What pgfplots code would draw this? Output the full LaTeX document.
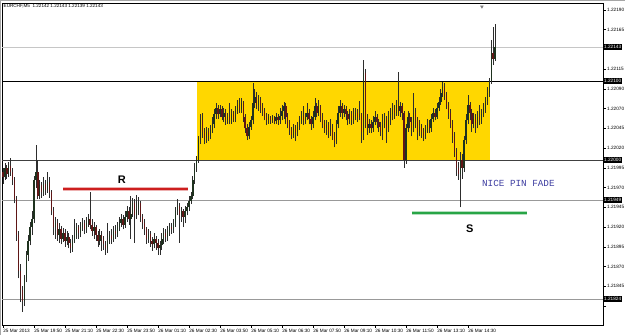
\documentclass[border=0pt]{standalone}
\usepackage{pgfplots}
\pgfplotsset{compat=1.18}
\usepackage{pgfplotstable}
\usepackage{fontspec}
\setmainfont{Liberation Sans}
\newfontfamily\monofont{Liberation Mono}
\definecolor{upc}{RGB}{30,50,30}
\definecolor{dnc}{RGB}{95,22,22}
\definecolor{wickc}{RGB}{45,45,45}
\definecolor{boxgold}{RGB}{255,215,0}
\definecolor{rline}{RGB}{205,30,30}
\definecolor{gline}{RGB}{40,165,70}
\definecolor{pinblue}{RGB}{60,60,160}
\pgfplotstableread{
i o h l c
0 1.21985 1.21990 1.21970 1.21978
1 1.21978 1.21996 1.21975 1.21990
2 1.21990 1.21994 1.21976 1.21982
3 1.21982 1.21998 1.21978 1.21992
4 1.21992 1.22002 1.21980 1.21985
5 1.21985 1.21990 1.21968 1.21975
6 1.21975 1.21978 1.21945 1.21950
7 1.21950 1.21955 1.21898 1.21905
8 1.21905 1.21910 1.21850 1.21860
9 1.21860 1.21868 1.21820 1.21835
10 1.21835 1.21840 1.21808 1.21822
11 1.21822 1.21855 1.21815 1.21850
12 1.21850 1.21885 1.21845 1.21880
13 1.21880 1.21905 1.21872 1.21898
14 1.21898 1.21922 1.21892 1.21915
15 1.21915 1.21935 1.21905 1.21925
16 1.21925 1.21980 1.21920 1.21975
17 1.21975 1.22019 1.21965 1.21985
18 1.21985 1.22000 1.21950 1.21955
19 1.21955 1.21975 1.21950 1.21968
20 1.21968 1.21972 1.21952 1.21960
21 1.21960 1.21978 1.21955 1.21970
22 1.21970 1.21975 1.21956 1.21962
23 1.21962 1.21985 1.21958 1.21972
24 1.21972 1.21978 1.21952 1.21960
25 1.21960 1.21962 1.21930 1.21935
26 1.21935 1.21940 1.21905 1.21915
27 1.21915 1.21928 1.21900 1.21920
28 1.21920 1.21925 1.21898 1.21905
29 1.21905 1.21920 1.21895 1.21912
30 1.21912 1.21916 1.21893 1.21900
31 1.21900 1.21914 1.21896 1.21908
32 1.21908 1.21912 1.21890 1.21898
33 1.21898 1.21910 1.21892 1.21903
34 1.21903 1.21908 1.21888 1.21895
35 1.21895 1.21900 1.21882 1.21888
36 1.21888 1.21905 1.21884 1.21898
37 1.21898 1.21925 1.21895 1.21905
38 1.21905 1.21920 1.21900 1.21915
39 1.21915 1.21918 1.21900 1.21908
40 1.21908 1.21922 1.21902 1.21915
41 1.21915 1.21926 1.21910 1.21920
42 1.21920 1.21924 1.21906 1.21912
43 1.21912 1.21928 1.21908 1.21920
44 1.21920 1.21932 1.21915 1.21925
45 1.21925 1.21960 1.21912 1.21918
46 1.21918 1.21925 1.21904 1.21910
47 1.21910 1.21922 1.21900 1.21915
48 1.21915 1.21918 1.21898 1.21905
49 1.21905 1.21910 1.21890 1.21898
50 1.21898 1.21912 1.21892 1.21905
51 1.21905 1.21910 1.21885 1.21900
52 1.21900 1.21904 1.21886 1.21893
53 1.21893 1.21898 1.21880 1.21888
54 1.21888 1.21920 1.21882 1.21898
55 1.21898 1.21910 1.21893 1.21905
56 1.21905 1.21912 1.21894 1.21900
57 1.21900 1.21916 1.21896 1.21910
58 1.21910 1.21918 1.21900 1.21906
59 1.21906 1.21922 1.21902 1.21915
60 1.21915 1.21928 1.21910 1.21920
61 1.21920 1.21932 1.21915 1.21925
62 1.21925 1.21930 1.21912 1.21918
63 1.21918 1.21935 1.21914 1.21928
64 1.21928 1.21942 1.21922 1.21935
65 1.21935 1.21940 1.21918 1.21925
66 1.21925 1.21955 1.21900 1.21932
67 1.21932 1.21952 1.21928 1.21945
68 1.21945 1.21950 1.21895 1.21930
69 1.21930 1.21956 1.21925 1.21938
70 1.21938 1.21953 1.21930 1.21945
71 1.21945 1.21948 1.21922 1.21928
72 1.21928 1.21932 1.21912 1.21920
73 1.21920 1.21925 1.21905 1.21912
74 1.21912 1.21915 1.21894 1.21900
75 1.21900 1.21912 1.21895 1.21906
76 1.21906 1.21910 1.21890 1.21898
77 1.21898 1.21903 1.21885 1.21893
78 1.21893 1.21908 1.21888 1.21900
79 1.21900 1.21904 1.21886 1.21895
80 1.21895 1.21900 1.21880 1.21888
81 1.21888 1.21898 1.21880 1.21892
82 1.21892 1.21908 1.21886 1.21900
83 1.21900 1.21914 1.21894 1.21908
84 1.21908 1.21912 1.21896 1.21903
85 1.21903 1.21916 1.21898 1.21910
86 1.21910 1.21920 1.21904 1.21915
87 1.21915 1.21920 1.21906 1.21912
88 1.21912 1.21925 1.21908 1.21920
89 1.21920 1.21940 1.21915 1.21935
90 1.21935 1.21950 1.21930 1.21942
91 1.21942 1.21946 1.21895 1.21930
92 1.21930 1.21940 1.21922 1.21935
93 1.21935 1.21938 1.21915 1.21928
94 1.21928 1.21942 1.21920 1.21935
95 1.21935 1.21946 1.21930 1.21940
96 1.21940 1.21954 1.21936 1.21948
97 1.21948 1.21960 1.21944 1.21955
98 1.21955 1.21980 1.21950 1.21975
99 1.21975 1.21996 1.21970 1.21990
100 1.21990 1.22005 1.21985 1.22000
101 1.22000 1.22030 1.21996 1.22025
102 1.22025 1.22058 1.22020 1.22050
103 1.22050 1.22059 1.22028 1.22035
104 1.22035 1.22040 1.22020 1.22028
105 1.22028 1.22042 1.22022 1.22036
106 1.22036 1.22040 1.22024 1.22030
107 1.22030 1.22044 1.22026 1.22038
108 1.22038 1.22055 1.22034 1.22045
109 1.22045 1.22064 1.22040 1.22058
110 1.22058 1.22072 1.22052 1.22066
111 1.22066 1.22070 1.22052 1.22058
112 1.22058 1.22070 1.22054 1.22064
113 1.22064 1.22068 1.22050 1.22055
114 1.22055 1.22066 1.22048 1.22060
115 1.22060 1.22064 1.22044 1.22050
116 1.22050 1.22060 1.22046 1.22054
117 1.22054 1.22072 1.22045 1.22050
118 1.22050 1.22064 1.22046 1.22058
119 1.22058 1.22062 1.22048 1.22052
120 1.22052 1.22068 1.22048 1.22062
121 1.22062 1.22076 1.22058 1.22070
122 1.22070 1.22078 1.22060 1.22065
123 1.22065 1.22078 1.22060 1.22072
124 1.22072 1.22075 1.22048 1.22055
125 1.22055 1.22058 1.22034 1.22040
126 1.22040 1.22045 1.22025 1.22030
127 1.22030 1.22048 1.22026 1.22042
128 1.22042 1.22056 1.22038 1.22050
129 1.22050 1.22098 1.22045 1.22072
130 1.22072 1.22090 1.22066 1.22080
131 1.22080 1.22086 1.22064 1.22070
132 1.22070 1.22082 1.22062 1.22076
133 1.22076 1.22080 1.22060 1.22068
134 1.22068 1.22072 1.22056 1.22062
135 1.22062 1.22066 1.22050 1.22055
136 1.22055 1.22060 1.22044 1.22050
137 1.22050 1.22058 1.22046 1.22054
138 1.22054 1.22056 1.22046 1.22050
139 1.22050 1.22057 1.22047 1.22053
140 1.22053 1.22056 1.22045 1.22049
141 1.22049 1.22060 1.22046 1.22054
142 1.22054 1.22058 1.22044 1.22050
143 1.22050 1.22066 1.22046 1.22056
144 1.22056 1.22070 1.22050 1.22062
145 1.22062 1.22074 1.22052 1.22068
146 1.22068 1.22072 1.22045 1.22055
147 1.22055 1.22060 1.22040 1.22045
148 1.22045 1.22050 1.22032 1.22038
149 1.22038 1.22042 1.22026 1.22032
150 1.22032 1.22045 1.22028 1.22040
151 1.22040 1.22044 1.22024 1.22035
152 1.22035 1.22048 1.22030 1.22042
153 1.22042 1.22056 1.22038 1.22050
154 1.22050 1.22062 1.22046 1.22056
155 1.22056 1.22068 1.22044 1.22050
156 1.22050 1.22060 1.22045 1.22055
157 1.22055 1.22072 1.22050 1.22060
158 1.22060 1.22065 1.22045 1.22052
159 1.22052 1.22056 1.22038 1.22045
160 1.22045 1.22062 1.22040 1.22055
161 1.22055 1.22078 1.22050 1.22068
162 1.22068 1.22072 1.22054 1.22060
163 1.22060 1.22076 1.22056 1.22068
164 1.22068 1.22070 1.22048 1.22055
165 1.22055 1.22060 1.22040 1.22046
166 1.22046 1.22050 1.22034 1.22040
167 1.22040 1.22050 1.22032 1.22044
168 1.22044 1.22048 1.22028 1.22035
169 1.22035 1.22052 1.22030 1.22040
170 1.22040 1.22046 1.22025 1.22030
171 1.22030 1.22035 1.22016 1.22024
172 1.22024 1.22050 1.22020 1.22045
173 1.22045 1.22068 1.22040 1.22060
174 1.22060 1.22076 1.22055 1.22068
175 1.22068 1.22072 1.22052 1.22060
176 1.22060 1.22070 1.22054 1.22065
177 1.22065 1.22068 1.22050 1.22058
178 1.22058 1.22062 1.22044 1.22052
179 1.22052 1.22064 1.22046 1.22058
180 1.22058 1.22062 1.22044 1.22050
181 1.22050 1.22066 1.22046 1.22056
182 1.22056 1.22066 1.22050 1.22060
183 1.22060 1.22064 1.22048 1.22054
184 1.22054 1.22075 1.22050 1.22058
185 1.22058 1.22060 1.22022 1.22035
186 1.22035 1.22127 1.22025 1.22110
187 1.22110 1.22115 1.22040 1.22050
188 1.22050 1.22058 1.22032 1.22040
189 1.22040 1.22052 1.22034 1.22046
190 1.22046 1.22050 1.22034 1.22040
191 1.22040 1.22056 1.22036 1.22048
192 1.22048 1.22062 1.22044 1.22055
193 1.22055 1.22058 1.22040 1.22048
194 1.22048 1.22052 1.22036 1.22042
195 1.22042 1.22048 1.22030 1.22036
196 1.22036 1.22058 1.22025 1.22044
197 1.22044 1.22060 1.22040 1.22052
198 1.22052 1.22056 1.22022 1.22040
199 1.22040 1.22062 1.22035 1.22050
200 1.22050 1.22066 1.22044 1.22058
201 1.22058 1.22072 1.22050 1.22065
202 1.22065 1.22070 1.22052 1.22060
203 1.22060 1.22076 1.22056 1.22070
204 1.22070 1.22111 1.22056 1.22062
205 1.22062 1.22074 1.22054 1.22068
206 1.22068 1.22072 1.22050 1.22060
207 1.22060 1.22062 1.21990 1.22000
208 1.22000 1.22046 1.21995 1.22040
209 1.22040 1.22062 1.22036 1.22055
210 1.22055 1.22060 1.22040 1.22048
211 1.22048 1.22055 1.22030 1.22040
212 1.22040 1.22085 1.22035 1.22060
213 1.22060 1.22066 1.22040 1.22050
214 1.22050 1.22055 1.22025 1.22035
215 1.22035 1.22050 1.22030 1.22042
216 1.22042 1.22046 1.22028 1.22036
217 1.22036 1.22040 1.22024 1.22030
218 1.22030 1.22044 1.22026 1.22038
219 1.22038 1.22052 1.22034 1.22045
220 1.22045 1.22050 1.22034 1.22040
221 1.22040 1.22058 1.22036 1.22052
222 1.22052 1.22066 1.22048 1.22060
223 1.22060 1.22064 1.22050 1.22055
224 1.22055 1.22072 1.22052 1.22066
225 1.22066 1.22080 1.22062 1.22074
226 1.22074 1.22090 1.22070 1.22085
227 1.22085 1.22099 1.22080 1.22092
228 1.22092 1.22098 1.22076 1.22082
229 1.22082 1.22086 1.22064 1.22070
230 1.22070 1.22074 1.22052 1.22060
231 1.22060 1.22064 1.22040 1.22045
232 1.22045 1.22050 1.22022 1.22030
233 1.22030 1.22035 1.22004 1.22010
234 1.22010 1.22015 1.21980 1.21990
235 1.21990 1.21998 1.21975 1.21982
236 1.21982 1.22010 1.21940 1.22000
237 1.22000 1.22008 1.21976 1.21990
238 1.21990 1.22030 1.21985 1.22025
239 1.22025 1.22058 1.22020 1.22050
240 1.22050 1.22082 1.22045 1.22070
241 1.22070 1.22074 1.22050 1.22060
242 1.22060 1.22064 1.22036 1.22045
243 1.22045 1.22060 1.22040 1.22052
244 1.22052 1.22058 1.22034 1.22045
245 1.22045 1.22062 1.22040 1.22055
246 1.22055 1.22070 1.22044 1.22050
247 1.22050 1.22064 1.22046 1.22058
248 1.22058 1.22072 1.22054 1.22065
249 1.22065 1.22080 1.22060 1.22075
250 1.22075 1.22092 1.22070 1.22085
251 1.22085 1.22104 1.22080 1.22100
252 1.22100 1.22152 1.22096 1.22135
253 1.22135 1.22168 1.22120 1.22128
254 1.22128 1.22172 1.22125 1.22143
}\candles
\begin{document}
\begin{tikzpicture}[x=1pt,y=1pt]
\path[use as bounding box] (0,0) rectangle (625,335);
\begin{axis}[
  at={(2pt,10pt)}, anchor=south west,
  width=601pt, height=322pt, scale only axis,
  xmin=-0.5, xmax=309.7, ymin=1.217911, ymax=1.221987,
  clip=false,
  axis line style={black, line width=0.6pt},
  tick align=outside, major tick length=3pt,
  tick style={black, line width=0.5pt},
  xtick pos=bottom, ytick pos=right, yticklabel pos=right,
  scaled y ticks=false, scaled x ticks=false,
  xtick={0,16,...,240},
  xticklabels={25 Mar 2013,25 Mar 19:50,25 Mar 21:10,25 Mar 22:30,25 Mar 23:50,26 Mar 01:10,26 Mar 02:30,26 Mar 03:50,26 Mar 05:10,26 Mar 06:30,26 Mar 07:50,26 Mar 09:10,26 Mar 10:30,26 Mar 11:50,26 Mar 13:10,26 Mar 14:30},
  xticklabel style={font=\fontsize{4.7}{5}\selectfont, anchor=north west, inner sep=0.8pt, xshift=-0.6pt},
  ytick={1.22190,1.22165,1.22140,1.22115,1.22090,1.22065,1.22040,1.22015,1.21990,1.21965,1.21940,1.21915,1.21890,1.21865,1.21840,1.21815,1.21790},
  yticklabels={1.22190,1.22165,,1.22115,1.22090,1.22070,1.22045,1.22020,1.21995,1.21970,1.21945,1.21920,1.21895,1.21870,1.21845,,1.21795},
  yticklabel style={font=\fontsize{4.7}{5}\selectfont, anchor=west, inner sep=1pt},
]
% yellow range box
\addplot[fill=boxgold, draw=none, forget plot] coordinates {(100.1,1.22000) (251.4,1.22000) (251.4,1.22100) (100.1,1.22100)} -- cycle;
% horizontal lines
\addplot[gray!45, line width=0.5pt, forget plot] coordinates {(-0.5,1.22143) (309.7,1.22143)};
\addplot[black, line width=0.6pt, forget plot] coordinates {(-0.5,1.22100) (309.7,1.22100)};
\addplot[black!75, line width=0.6pt, forget plot] coordinates {(-0.5,1.22000) (309.7,1.22000)};
\addplot[gray!80, line width=0.6pt, forget plot] coordinates {(-0.5,1.21949) (309.7,1.21949)};
\addplot[gray!80, line width=0.6pt, forget plot] coordinates {(-0.5,1.21824) (309.7,1.21824)};
% R and S lines
\addplot[rline!35, line width=3.4pt, forget plot] coordinates {(31.0,1.21963) (95.5,1.21963)};
\addplot[rline, line width=2pt, forget plot] coordinates {(31.0,1.21963) (95.5,1.21963)};
\addplot[gline!35, line width=3.4pt, forget plot] coordinates {(211.1,1.21933) (270.5,1.21933)};
\addplot[gline, line width=2pt, forget plot] coordinates {(211.1,1.21933) (270.5,1.21933)};
% wicks
\addplot[draw=none, mark=none, forget plot,
  error bars/.cd, y dir=plus, y explicit, error mark=none,
  error bar style={draw=wickc, line width=0.7pt}]
  table[x=i, y=l, y error plus expr=\thisrow{h}-\thisrow{l}] {\candles};
% up bodies
\addplot[draw=none, mark=none, forget plot,
  x filter/.expression={\thisrow{c}>=\thisrow{o} ? x : nan},
  error bars/.cd, y dir=plus, y explicit, error mark=none,
  error bar style={draw=upc, line width=1.35pt}]
  table[x=i, y=o, y error plus expr=\thisrow{c}-\thisrow{o}] {\candles};
% down bodies
\addplot[draw=none, mark=none, forget plot,
  x filter/.expression={\thisrow{c}<\thisrow{o} ? x : nan},
  error bars/.cd, y dir=plus, y explicit, error mark=none,
  error bar style={draw=dnc, line width=1.35pt}]
  table[x=i, y=c, y error plus expr=\thisrow{o}-\thisrow{c}] {\candles};
% shift marker
\addplot[only marks, mark=triangle*, mark size=1.6pt, mark options={rotate=180, fill=gray, draw=gray}, forget plot] coordinates {(247.2,1.22194)};
% annotations
\node[font=\fontsize{11}{12}\selectfont\bfseries] at (axis cs:61.4,1.21975) {R};
\node[font=\fontsize{11}{12}\selectfont\bfseries] at (axis cs:241.0,1.21913) {S};
\node[anchor=west, inner sep=0, text=pinblue, font=\monofont\fontsize{9.3}{10}\selectfont] at (axis cs:247.2,1.21970) {NICE PIN FADE};
% price boxes on the scale
\foreach \p in {1.22143,1.22100,1.22000,1.21949,1.21824}{
  \edef\tmp{\noexpand\node[anchor=west, fill=black, text=white, inner xsep=1pt, inner ysep=1.3pt, font=\noexpand\fontsize{4.7}{5}\noexpand\selectfont] at (axis cs:309.7,\p) {\p};}\tmp
}
\end{axis}
% window border
\draw[gray!70, line width=1pt] (0.5,0) -- (0.5,335);
\draw[gray!70, line width=1pt] (0,334.5) -- (625,334.5);
\node[anchor=west, inner sep=0, font=\fontsize{4.6}{5}\selectfont] at (3.5,329) {EURCHF,M5\ \ 1.22142 1.22143 1.22139 1.22143};
\end{tikzpicture}
\end{document}
